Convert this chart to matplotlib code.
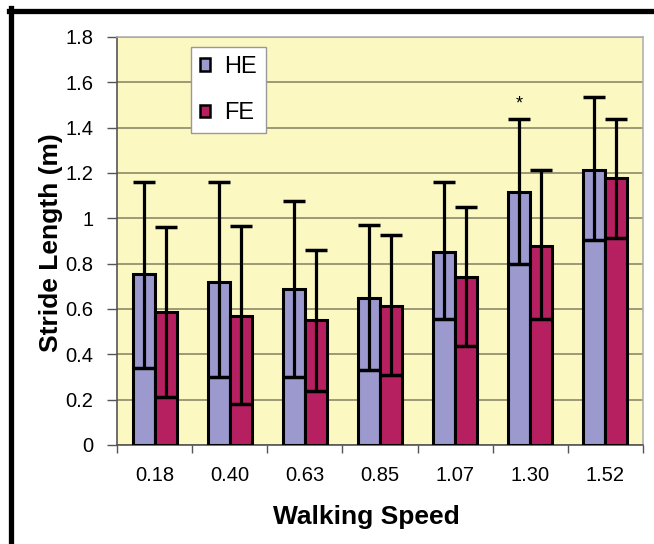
import numpy as np
import matplotlib
matplotlib.use("Agg")
import matplotlib.pyplot as plt
from matplotlib.lines import Line2D

plt.rcParams['font.family'] = ['Liberation Sans', 'DejaVu Sans']

speeds = ["0.18", "0.40", "0.63", "0.85", "1.07", "1.30", "1.52"]
he_mean = [0.755, 0.72, 0.69, 0.65, 0.85, 1.115, 1.215]
he_low = [0.34, 0.30, 0.30, 0.33, 0.555, 0.80, 0.905]
he_high = [1.16, 1.16, 1.075, 0.97, 1.16, 1.44, 1.535]
fe_mean = [0.585, 0.57, 0.55, 0.615, 0.74, 0.88, 1.18]
fe_low = [0.21, 0.18, 0.24, 0.31, 0.435, 0.555, 0.915]
fe_high = [0.96, 0.965, 0.86, 0.925, 1.05, 1.215, 1.44]
signif = [False, False, False, False, False, True, False]

he_col = "#9b99cd"
fe_col = "#b62060"

fig = plt.figure(figsize=(6.54, 5.44), dpi=100)
ax = fig.add_axes([117/654, 99/544, 526/654, 408/544])
ax.set_facecolor("#fbf8c2")

x = np.arange(len(speeds))
w = 0.293
he_mean = np.array(he_mean); fe_mean = np.array(fe_mean)
he_err = [he_mean - np.array(he_low), np.array(he_high) - he_mean]
fe_err = [fe_mean - np.array(fe_low), np.array(fe_high) - fe_mean]

ax.bar(x - w/2, he_mean, w, color=he_col, edgecolor="black", linewidth=2.2, zorder=3, label="HE")
ax.bar(x + w/2, fe_mean, w, color=fe_col, edgecolor="black", linewidth=2.2, zorder=3, label="FE")
ax.errorbar(x - w/2, he_mean, yerr=he_err, fmt="none", ecolor="black", elinewidth=2.3,
            capsize=7.9, capthick=2.5, zorder=4)
ax.errorbar(x + w/2, fe_mean, yerr=fe_err, fmt="none", ecolor="black", elinewidth=2.3,
            capsize=7.9, capthick=2.5, zorder=4)

for i, s in enumerate(signif):
    if s:
        ax.text(x[i] - w/2, he_high[i] + 0.025, "*", ha="center", va="bottom", fontsize=13)

ax.set_xlim(-0.5, len(speeds) - 0.5)
ax.set_ylim(0, 1.8)
ax.set_yticks(np.arange(0, 1.81, 0.2))
ax.set_yticklabels(["0", "0.2", "0.4", "0.6", "0.8", "1", "1.2", "1.4", "1.6", "1.8"])
ax.set_xticks(x)
ax.set_xticklabels(speeds)
ax.set_xticks(np.arange(-0.5, len(speeds)), minor=True)
ax.tick_params(axis="x", which="major", length=0, pad=15, labelsize=14.5)
ax.tick_params(axis="x", which="minor", length=6, width=1, color="#555555")
ax.tick_params(axis="y", length=7, width=1, color="#555555", labelsize=14.5, pad=10)
ax.yaxis.grid(True, color="#8c8a6a", linewidth=1.2, zorder=0)
ax.set_axisbelow(True)

for side in ["top", "right"]:
    ax.spines[side].set_color("#b0b0b0")
    ax.spines[side].set_linewidth(1.2)
for side in ["left", "bottom"]:
    ax.spines[side].set_color("#555555")
    ax.spines[side].set_linewidth(1.2)

ax.set_xlabel("Walking Speed", fontsize=19, fontweight="bold")
ax.set_ylabel("Stride Length (m)", fontsize=19, fontweight="bold")
ax.xaxis.set_label_coords(0.475, -0.147)
ax.xaxis.label.set_va("top")
ax.yaxis.set_label_coords(-0.103, 0.495)

leg = ax.legend(loc="upper left", bbox_to_anchor=(74/526, 1 - 10/408), borderaxespad=0,
                fontsize=17, frameon=True, fancybox=False, edgecolor="#999999", framealpha=1,
                handlelength=0.42, handleheight=0.42, handletextpad=0.6,
                labelspacing=1.03, borderpad=0.38)
leg.get_frame().set_linewidth(1.0)
for h in leg.legend_handles:
    h.set_linewidth(1.8)

# black frame along top and left edges
fig.add_artist(Line2D([9/654, 1], [1 - 10.5/544, 1 - 10.5/544], color="black", linewidth=3.8,
                      transform=fig.transFigure))
fig.add_artist(Line2D([11/654, 11/654], [0, 1 - 8/544], color="black", linewidth=3.8,
                      transform=fig.transFigure))

fig.savefig("out.png", dpi=100)
